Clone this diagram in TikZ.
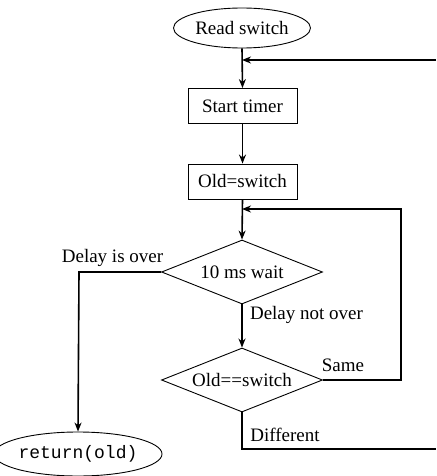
\documentclass[tikz,border=0pt]{standalone}
\usepackage{fontspec}
\setmainfont{Liberation Serif}
\setmonofont{Liberation Mono}
\usetikzlibrary{shapes.geometric,arrows.meta}
\begin{document}
\begin{tikzpicture}[x=0.5pt,y=-0.5pt,
  every node/.style={font=\fontsize{9.5}{11}\selectfont},
  shp/.style={draw,line width=0.45pt,inner sep=0pt},
  term/.style={shp,ellipse,minimum width=68.5pt,minimum height=20pt},
  proc/.style={shp,rectangle,minimum width=54.5pt,minimum height=17.5pt},
  dec/.style={shp,diamond,shape aspect=2.5,minimum width=80.5pt,minimum height=32pt},
  conn/.style={line width=0.8pt},
  arr/.style={conn,-{Stealth[length=4.5pt,width=3.5pt]}},
  lbl/.style={inner sep=0pt}]
\useasboundingbox (0,0) rectangle (436,476);
\node[term] (read) at (242,28) {Read switch};
\node[proc] (start) at (242.5,106) {Start timer};
\node[proc] (old) at (242.5,181.5) {Old=switch};
\node[dec] (wait) at (242,272) {10 ms wait};
\node[dec] (cmp) at (242,380) {Old==switch};
\node[term,minimum width=68.5pt,minimum height=22pt] (ret) at (78,454) {\fontsize{9}{10}\selectfont\ttfamily return(old)};
\coordinate (j1) at (242,60);
\coordinate (j2) at (242,209);
\coordinate (e1) at (436,60);
\coordinate (e2) at (436,449);
\coordinate (r2) at (401,380);
\coordinate (l1) at (79,272);
\draw[arr] (read.south) -- (start.north);
\draw[arr] (start.south) -- (old.north);
\draw[arr] (old.south) -- (wait.north);
\draw[arr] (wait.south) -- (cmp.north);
\draw[arr] (wait.west) -- (l1) -- (ret.north);
\draw[arr] (e1) -- (j1);
\draw[arr] (cmp.east) -- (r2) |- (j2);
\draw[conn] (cmp.south) |- (e2);
\node[lbl] (l_over) at (112.5,258) {Delay is over};
\node[lbl] (l_not) at (306.5,315) {Delay not over};
\node[lbl] (l_same) at (343,365) {Same};
\node[lbl] (l_diff) at (285,435) {Different};
\end{tikzpicture}
\end{document}
